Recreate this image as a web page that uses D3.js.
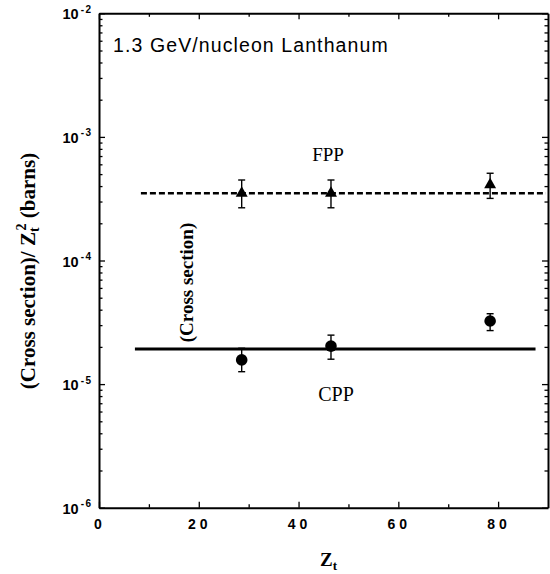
<!DOCTYPE html>
<html>
<head>
<meta charset="utf-8">
<script src="https://cdn.jsdelivr.net/npm/d3@7"></script>
<style>
  html, body { margin: 0; padding: 0; background: #fff; }
  svg { display: block; }
</style>
</head>
<body>
<svg id="chart" width="550" height="574"></svg>
<script>
// ---- data ----
const zt = [28.6, 46.5, 78.4];
const fppValues = [3.5e-4, 3.5e-4, 4.1e-4];
const fppLow = [2.67e-4, 2.67e-4, 3.18e-4];
const fppHigh = [4.48e-4, 4.48e-4, 5.08e-4];
const cppValues = [1.57e-5, 2.03e-5, 3.24e-5];
const cppLow = [1.26e-5, 1.59e-5, 2.71e-5];
const cppHigh = [1.95e-5, 2.49e-5, 3.71e-5];
const fppFit = { value: 3.5e-4, from: 8.4, to: 89.6 };
const cppFit = { value: 1.92e-5, from: 7.2, to: 87.5 };
const xTicks = [0, 20, 40, 60, 80];
const xMinorTicks = [10, 30, 50, 70];
const yDecades = [1e-6, 1e-5, 1e-4, 1e-3, 1e-2];
const yExponents = ["-6", "-5", "-4", "-3", "-2"];

// ---- layout ----
const L = 99, R = 548, T = 13.3, B = 507.7;
const svg = d3.select("#chart");
const x = d3.scaleLinear().domain([0, 90]).range([L, R]);
const y = d3.scaleLog().domain([1e-6, 1e-2]).range([B, T]);

const minorY = y.ticks().filter(v => !yDecades.some(d => Math.abs(d - v) / d < 1e-6));

function styleAxis(g, w) {
  g.selectAll("path.domain").attr("stroke", "#000").attr("stroke-width", w);
  g.selectAll(".tick line").attr("stroke", "#000").attr("stroke-width", 1.3);
  g.selectAll(".tick text").remove();
}

// left axis
svg.append("g").attr("transform", `translate(${L},0)`)
  .call(d3.axisLeft(y).tickValues(yDecades).tickSizeInner(-6).tickSizeOuter(0))
  .call(g => styleAxis(g, 2));
svg.append("g").attr("transform", `translate(${L},0)`)
  .call(d3.axisLeft(y).tickValues(minorY).tickSizeInner(-3.5).tickSizeOuter(0))
  .call(g => { styleAxis(g, 0); g.select("path.domain").remove(); });
// right axis
svg.append("g").attr("transform", `translate(${R},0)`)
  .call(d3.axisRight(y).tickValues(yDecades).tickSizeInner(-6).tickSizeOuter(0))
  .call(g => styleAxis(g, 2));
svg.append("g").attr("transform", `translate(${R},0)`)
  .call(d3.axisRight(y).tickValues(minorY).tickSizeInner(-3.5).tickSizeOuter(0))
  .call(g => { styleAxis(g, 0); g.select("path.domain").remove(); });
// bottom axis
svg.append("g").attr("transform", `translate(0,${B})`)
  .call(d3.axisBottom(x).tickValues(xTicks).tickSizeInner(-6).tickSizeOuter(0))
  .call(g => styleAxis(g, 2));
svg.append("g").attr("transform", `translate(0,${B})`)
  .call(d3.axisBottom(x).tickValues(xMinorTicks).tickSizeInner(-3.5).tickSizeOuter(0))
  .call(g => { styleAxis(g, 0); g.select("path.domain").remove(); });
// top axis
svg.append("g").attr("transform", `translate(0,${T})`)
  .call(d3.axisTop(x).tickValues(xTicks).tickSizeInner(-6).tickSizeOuter(0))
  .call(g => styleAxis(g, 2));
svg.append("g").attr("transform", `translate(0,${T})`)
  .call(d3.axisTop(x).tickValues(xMinorTicks).tickSizeInner(-3.5).tickSizeOuter(0))
  .call(g => { styleAxis(g, 0); g.select("path.domain").remove(); });

// x tick labels
svg.append("g").selectAll("text").data(xTicks).join("text")
  .attr("x", d => x(d) + 1)
  .attr("y", 528.5)
  .attr("text-anchor", "middle")
  .attr("font-family", "Liberation Sans, Arial, sans-serif")
  .attr("font-weight", "bold")
  .attr("font-size", 14)
  .attr("letter-spacing", 4)
  .text(d => d);

// y tick labels
const yl = svg.append("g").selectAll("text").data(yDecades).join("text")
  .attr("x", 62.5)
  .attr("y", d => y(d) + 6)
  .attr("font-family", "Liberation Sans, Arial, sans-serif")
  .attr("font-weight", "bold")
  .attr("font-size", 14.5);
yl.append("tspan").text("10");
yl.append("tspan").attr("dx", 2).attr("dy", -6.5).attr("font-size", 10)
  .attr("letter-spacing", 1.5)
  .text((d, i) => yExponents[i]);

// fit lines
svg.append("line")
  .attr("x1", x(fppFit.from)).attr("x2", x(fppFit.to))
  .attr("y1", y(fppFit.value)).attr("y2", y(fppFit.value))
  .attr("stroke", "#000").attr("stroke-width", 2.6)
  .attr("stroke-dasharray", "6,3");
svg.append("line")
  .attr("x1", x(cppFit.from)).attr("x2", x(cppFit.to))
  .attr("y1", y(cppFit.value)).attr("y2", y(cppFit.value))
  .attr("stroke", "#000").attr("stroke-width", 3);

// error bars
function errorBars(lo, hi) {
  const g = svg.append("g").attr("stroke", "#000").attr("stroke-width", 1.4);
  zt.forEach((z, i) => {
    g.append("line").attr("x1", x(z)).attr("x2", x(z)).attr("y1", y(lo[i])).attr("y2", y(hi[i]));
    g.append("line").attr("x1", x(z) - 3.5).attr("x2", x(z) + 3.5).attr("y1", y(lo[i])).attr("y2", y(lo[i]));
    g.append("line").attr("x1", x(z) - 3.5).attr("x2", x(z) + 3.5).attr("y1", y(hi[i])).attr("y2", y(hi[i]));
  });
}
errorBars(fppLow, fppHigh);
errorBars(cppLow, cppHigh);

// markers
svg.append("g").selectAll("path").data(fppValues).join("path")
  .attr("transform", (d, i) => `translate(${x(zt[i])},${y(d)})`)
  .attr("d", d3.symbol(d3.symbolTriangle, 62))
  .attr("fill", "#000");
svg.append("g").selectAll("circle").data(cppValues).join("circle")
  .attr("cx", (d, i) => x(zt[i])).attr("cy", d => y(d))
  .attr("r", 5.8).attr("fill", "#000");

// text labels
svg.append("text").attr("x", 113).attr("y", 52)
  .attr("font-family", "Liberation Sans, Arial, sans-serif")
  .attr("font-size", 19.5).attr("letter-spacing", 1.1)
  .text("1.3 GeV/nucleon Lanthanum");

svg.append("text").attr("x", 328).attr("y", 160.7).attr("text-anchor", "middle")
  .attr("font-family", "Liberation Serif, Times New Roman, serif")
  .attr("font-size", 19).text("FPP");
svg.append("text").attr("x", 336).attr("y", 400.7).attr("text-anchor", "middle")
  .attr("font-family", "Liberation Serif, Times New Roman, serif")
  .attr("font-size", 20).text("CPP");

svg.append("text")
  .attr("transform", "translate(193,282.5) rotate(-90)")
  .attr("text-anchor", "middle")
  .attr("font-family", "Liberation Serif, Times New Roman, serif")
  .attr("font-weight", "bold")
  .attr("font-size", 19).text("(Cross section)");

// y-axis title
const yt = svg.append("text")
  .attr("transform", "translate(35,271) rotate(-90)")
  .attr("text-anchor", "middle")
  .attr("font-family", "Liberation Serif, Times New Roman, serif")
  .attr("font-weight", "bold")
  .attr("font-size", 21);
yt.append("tspan").text("(Cross section)/ Z");
yt.append("tspan").attr("font-size", 14).attr("dy", 4).text("t");
yt.append("tspan").attr("font-size", 14).attr("dx", -3).attr("dy", -13).text("2");
yt.append("tspan").attr("dy", 9).text(" (barns)");

// x-axis title
const xt = svg.append("text")
  .attr("x", 320).attr("y", 566)
  .attr("font-family", "Liberation Serif, Times New Roman, serif")
  .attr("font-weight", "bold")
  .attr("font-size", 19);
xt.append("tspan").text("Z");
xt.append("tspan").attr("font-size", 13).attr("dy", 4).text("t");
</script>
</body>
</html>
